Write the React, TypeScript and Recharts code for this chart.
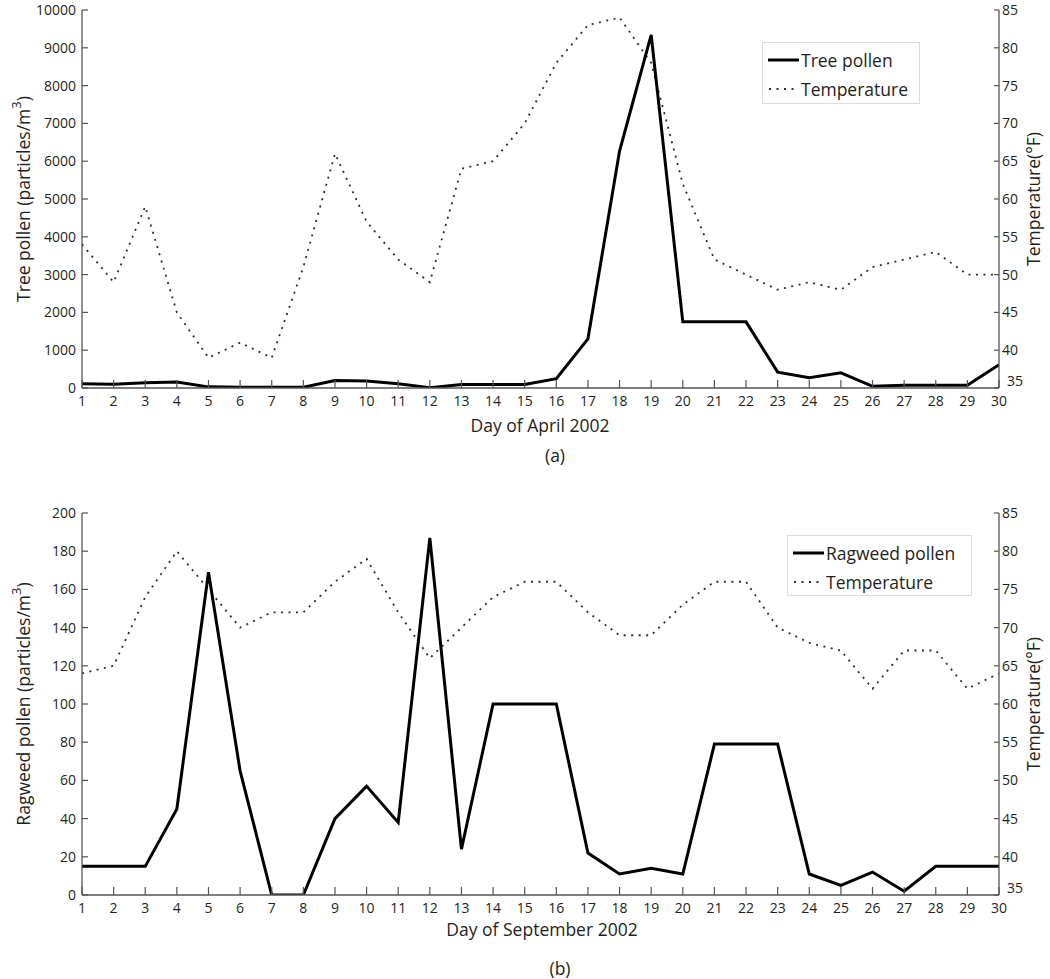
import React from 'react';
import { LineChart, Line, XAxis, YAxis, Legend, Label } from 'recharts';

const days = [1, 2, 3, 4, 5, 6, 7, 8, 9, 10, 11, 12, 13, 14, 15, 16, 17, 18, 19, 20, 21, 22, 23, 24, 25, 26, 27, 28, 29, 30];

// April 2002
const treePollen = [110, 100, 140, 160, 30, 20, 20, 20, 200, 185, 115, 10, 90, 90, 90, 246, 1300, 6270, 9340, 1750, 1750, 1750, 420, 270, 400, 45, 70, 70, 70, 615];
const aprilTemp = [54, 49, 59, 45, 39, 41, 39, 51, 66, 57, 52, 49, 64, 65, 70, 78, 83, 84, 78, 62, 52, 50, 48, 49, 48, 51, 52, 53, 50, 50];

// September 2002
const ragweedPollen = [15, 15, 15, 45, 169, 65, 0, 0, 40, 57, 38, 187, 24, 100, 100, 100, 22, 11, 14, 11, 79, 79, 79, 11, 5, 12, 2, 15, 15, 15];
const septTemp = [64, 65, 74, 80, 75, 70, 72, 72, 76, 79, 72, 66, 70, 74, 76, 76, 72, 69, 69, 73, 76, 76, 70, 68, 67, 62, 67, 67, 62, 64];

const treeTicks = [0, 1000, 2000, 3000, 4000, 5000, 6000, 7000, 8000, 9000, 10000];
const ragweedTicks = [0, 20, 40, 60, 80, 100, 120, 140, 160, 180, 200];
const tempTicks = [35, 40, 45, 50, 55, 60, 65, 70, 75, 80, 85];

const FONT = '"Open Sans", "DejaVu Sans", sans-serif';
const AXIS = '#555555';
const TEXT = '#231f20';
const DOT_COLOR = '#2e2e2e';
const DOT_DASH = '2 5.5';

const aprilData = days.map((d, i) => ({ day: d, pollen: treePollen[i], temp: aprilTemp[i] }));
const septData = days.map((d, i) => ({ day: d, pollen: ragweedPollen[i], temp: septTemp[i] }));

const tickStyle = { fill: TEXT, fontSize: 14, fontFamily: FONT };

// right axis labels; the lowest one sits raised, as in the original figure
const RightTick = (props: any) => {
  const { x, y, payload } = props;
  const low = payload.value === 35;
  return (
    <text
      x={x + (low ? 5 : 0)}
      y={y + (low ? -7 : 0)}
      dy="0.355em"
      textAnchor="start"
      fontFamily={FONT}
      fontSize={14}
      fill={TEXT}
    >
      {payload.value}
    </text>
  );
};

type LegendPos = { left: number; top: number; width: number; height: number };

const LegendBox = ({ name, pos }: { name: string; pos: LegendPos }) => (
  <div
    style={{
      width: pos.width,
      height: pos.height,
      border: '1px solid #dcdcdc',
      background: '#fff',
      boxSizing: 'border-box',
      position: 'relative',
    }}
  >
    <svg width={pos.width} height={pos.height} style={{ position: 'absolute', left: 0, top: 0 }}>
      <line x1={5} x2={36} y1={17} y2={17} stroke="#000" strokeWidth={3} />
      <line x1={6} x2={36} y1={46} y2={46} stroke={DOT_COLOR} strokeWidth={1.8} strokeDasharray={DOT_DASH} />
      <text x={38} y={17} dominantBaseline="central" fontFamily={FONT} fontSize={17.5} fill={TEXT}>
        {name}
      </text>
      <text x={38} y={46} dominantBaseline="central" fontFamily={FONT} fontSize={17.5} fill={TEXT}>
        Temperature
      </text>
    </svg>
  </div>
);

const sideLabel = (cx: number, cy: number, main: string, sup?: boolean) => () => (
  <text
    x={cx}
    y={cy}
    transform={`rotate(-90, ${cx}, ${cy})`}
    textAnchor="middle"
    dominantBaseline="central"
    fontFamily={FONT}
    fontSize={17.5}
    fill={TEXT}
  >
    {main}
    {sup ? (
      <>
        <tspan dy={-7} fontSize={13}>3</tspan>
        <tspan dy={7}>)</tspan>
      </>
    ) : null}
  </text>
);

interface PanelProps {
  data: { day: number; pollen: number; temp: number }[];
  height: number;
  plotTop: number;
  plotBottom: number;
  pollenMax: number;
  pollenTicks: number[];
  pollenLabel: string;
  legendName: string;
  legendPos: LegendPos;
}

const PLOT_LEFT = 82;
const PLOT_RIGHT = 999;
const LEFT_W = 80;
const RIGHT_W = 50;
const XAXIS_H = 30;

const PollenPanel = ({ data, height, plotTop, plotBottom, pollenMax, pollenTicks, pollenLabel, legendName, legendPos }: PanelProps) => {
  const midY = (plotTop + plotBottom) / 2;
  return (
    <LineChart
      width={1050}
      height={height}
      data={data}
      margin={{
        top: plotTop,
        right: 1050 - PLOT_RIGHT - RIGHT_W,
        bottom: height - plotBottom - XAXIS_H,
        left: PLOT_LEFT - LEFT_W,
      }}
    >
      <XAxis
        xAxisId="main"
        dataKey="day"
        type="number"
        domain={[1, 30]}
        ticks={days}
        interval={0}
        allowDataOverflow
        height={XAXIS_H}
        tickSize={-8}
        tickMargin={16}
        tick={tickStyle}
        axisLine={{ stroke: AXIS, strokeWidth: 1.3 }}
        tickLine={{ stroke: AXIS, strokeWidth: 1.2 }}
      />
      <XAxis
        xAxisId="top"
        orientation="top"
        dataKey="day"
        type="number"
        domain={[1, 30]}
        ticks={days}
        interval={0}
        allowDataOverflow
        height={0}
        tickSize={-8}
        tick={false}
        axisLine={{ stroke: AXIS, strokeWidth: 1.3 }}
        tickLine={{ stroke: AXIS, strokeWidth: 1.2 }}
      />
      <YAxis
        yAxisId="left"
        type="number"
        domain={[0, pollenMax]}
        ticks={pollenTicks}
        interval={0}
        allowDataOverflow
        width={LEFT_W}
        tickSize={-6}
        tickMargin={12}
        tick={tickStyle}
        axisLine={{ stroke: AXIS, strokeWidth: 1.3 }}
        tickLine={{ stroke: AXIS, strokeWidth: 1.2 }}
      >
        <Label content={sideLabel(23, midY, pollenLabel, true)} />
      </YAxis>
      <YAxis
        yAxisId="right"
        orientation="right"
        type="number"
        domain={[35, 85]}
        ticks={tempTicks}
        interval={0}
        allowDataOverflow
        width={RIGHT_W}
        tickSize={-5}
        tickMargin={8}
        tick={<RightTick />}
        axisLine={{ stroke: AXIS, strokeWidth: 1.3 }}
        tickLine={{ stroke: AXIS, strokeWidth: 1.2 }}
      >
        <Label content={sideLabel(1033, midY, 'Temperature(°F)')} />
      </YAxis>
      <Legend
        layout="horizontal"
        verticalAlign="middle"
        align="center"
        wrapperStyle={{ left: legendPos.left, top: legendPos.top, width: legendPos.width, height: legendPos.height }}
        content={() => <LegendBox name={legendName} pos={legendPos} />}
      />
      <Line
        xAxisId="main"
        yAxisId="right"
        type="linear"
        dataKey="temp"
        name="Temperature"
        stroke={DOT_COLOR}
        strokeWidth={1.8}
        strokeDasharray={DOT_DASH}
        dot={false}
        activeDot={false}
        isAnimationActive={false}
      />
      <Line
        xAxisId="main"
        yAxisId="left"
        type="linear"
        dataKey="pollen"
        name={legendName}
        stroke="#000000"
        strokeWidth={3}
        strokeLinejoin="miter"
        dot={false}
        activeDot={false}
        isAnimationActive={false}
      />
    </LineChart>
  );
};

const caption = (text: string, cx: number, cy: number, size: number) => (
  <div
    style={{
      position: 'absolute',
      left: cx - 200,
      top: cy - 14,
      width: 400,
      height: 28,
      lineHeight: '28px',
      textAlign: 'center',
      fontFamily: FONT,
      fontSize: size,
      color: TEXT,
    }}
  >
    {text}
  </div>
);

export default function App() {
  return (
    <div style={{ position: 'absolute', left: 0, top: 0, width: 1050, height: 979, background: '#fff' }}>
      <div style={{ position: 'absolute', left: 0, top: 0 }}>
        <PollenPanel
          data={aprilData}
          height={470}
          plotTop={10}
          plotBottom={388}
          pollenMax={10000}
          pollenTicks={treeTicks}
          pollenLabel="Tree pollen (particles/m"
          legendName="Tree pollen"
          legendPos={{ left: 762, top: 42, width: 158, height: 62 }}
        />
      </div>
      <div style={{ position: 'absolute', left: 0, top: 470 }}>
        <PollenPanel
          data={septData}
          height={509}
          plotTop={43}
          plotBottom={425}
          pollenMax={200}
          pollenTicks={ragweedTicks}
          pollenLabel="Ragweed pollen (particles/m"
          legendName="Ragweed pollen"
          legendPos={{ left: 787, top: 65, width: 185, height: 61 }}
        />
      </div>
      {caption('Day of April 2002', 540, 425, 17.5)}
      {caption('(a)', 555, 455, 17.5)}
      {caption('Day of September 2002', 542, 929, 17.5)}
      {caption('(b)', 560, 968, 17.5)}
    </div>
  );
}
